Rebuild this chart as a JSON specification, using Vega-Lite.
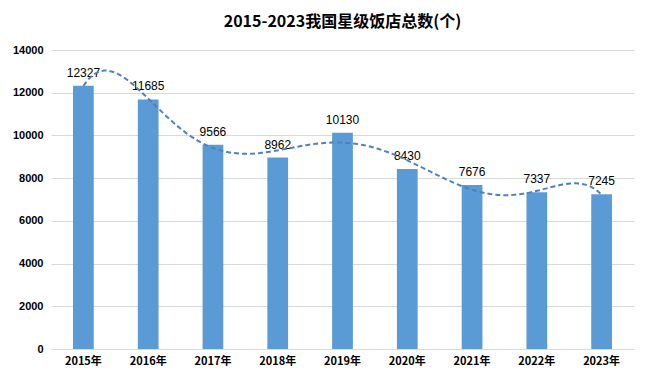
{
  "$schema": "https://vega.github.io/schema/vega-lite/v6.json",
  "autosize": {"type": "fit", "contains": "padding"},
  "width": 649,
  "height": 382,
  "padding": {"left": 12, "right": 15, "top": 14, "bottom": 16},
  "background": "white",
  "title": {
    "text": "2015-2023我国星级饭店总数(个)",
    "font": "Noto Sans CJK SC",
    "fontSize": 16,
    "fontWeight": "bold",
    "color": "#000000",
    "offset": 14
  },
  "config": {"view": {"stroke": null}},
  "data": {
    "values": [
      {"year": "2015年", "yr": 2015, "count": 12327},
      {"year": "2016年", "yr": 2016, "count": 11685},
      {"year": "2017年", "yr": 2017, "count": 9566},
      {"year": "2018年", "yr": 2018, "count": 8962},
      {"year": "2019年", "yr": 2019, "count": 10130},
      {"year": "2020年", "yr": 2020, "count": 8430},
      {"year": "2021年", "yr": 2021, "count": 7676},
      {"year": "2022年", "yr": 2022, "count": 7337},
      {"year": "2023年", "yr": 2023, "count": 7245}
    ]
  },
  "encoding": {
    "y": {
      "field": "count",
      "type": "quantitative",
      "title": null,
      "scale": {"domain": [0, 14000]},
      "axis": {
        "values": [0, 2000, 4000, 6000, 8000, 10000, 12000, 14000],
        "format": "d",
        "labelFont": "Liberation Sans",
        "labelFontSize": 11,
        "labelFontWeight": "bold",
        "labelColor": "#000000",
        "ticks": false,
        "domain": false,
        "gridColor": "#d9d9d9",
        "labelPadding": 8
      }
    }
  },
  "layer": [
    {
      "encoding": {
        "x": {
          "field": "year",
          "type": "ordinal",
          "sort": null,
          "title": null,
          "scale": {"paddingInner": 0.68, "paddingOuter": 0.34},
          "axis": {
            "labelAngle": 0,
            "labelFont": "Noto Sans CJK SC",
            "labelFontSize": 11,
            "labelFontWeight": "bold",
            "labelColor": "#000000",
            "ticks": false,
            "domainColor": "#d9d9d9",
            "labelPadding": 6
          }
        }
      },
      "layer": [
        {"mark": {"type": "bar", "color": "#5B9BD5"}},
        {
          "mark": {"type": "text", "dy": -13, "font": "Liberation Sans", "fontSize": 12, "color": "#000000"},
          "encoding": {"text": {"field": "count", "type": "quantitative", "format": "d"}}
        }
      ]
    },
    {
      "transform": [{"regression": "count", "on": "yr", "method": "poly", "order": 6}],
      "mark": {"type": "line", "strokeDash": [5, 3], "strokeWidth": 2, "color": "#4F81BD", "clip": true},
      "encoding": {
        "x": {"field": "yr", "type": "quantitative", "scale": {"domain": [2014.5, 2023.5]}, "axis": null}
      }
    }
  ],
  "resolve": {"scale": {"x": "independent"}}
}
